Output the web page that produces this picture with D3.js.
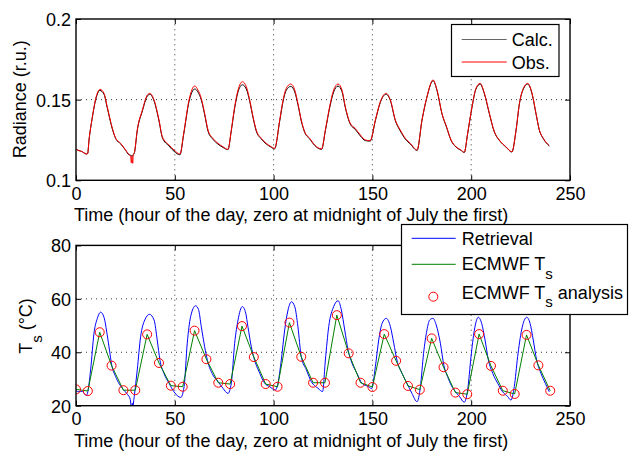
<!DOCTYPE html>
<html><head><meta charset="utf-8">
<script src="https://cdn.jsdelivr.net/npm/d3@7/dist/d3.min.js"></script>
<style>
body{margin:0;background:#fff}
text{font-family:"Liberation Sans",Arial,Helvetica,sans-serif;fill:#000}
</style>
</head><body>
<svg id="c" width="629" height="452"></svg>
<script>
// ---------- data ----------
const xTicks = [0, 50, 100, 150, 200, 250];
const radTicks = [0.1, 0.15, 0.2];
const tsTicks = [20, 40, 60, 80];
const xLabel = "Time (hour of the day, zero at midnight of July the first)";

// Radiance (r.u.) observed: [hour, value]
const radObs = [
 [0,0.1192],[1.5,0.1184],[3.2,0.1177],[4,0.1170],[5.4,0.1163],[5.9,0.1166],[6.6,0.1250],[8.3,0.1394],[10,0.1508],[12.1,0.1564],[14.2,0.1539],[15.8,0.1456],[18.4,0.1322],[20.1,0.1260],[22.6,0.1229],[25.1,0.1188],[26.8,0.1160],
 [27.6,0.1152],[28,0.1108],[28.3,0.1150],[28.7,0.1105],[29,0.1160],[29.6,0.1175],
 [31,0.1312],[33.6,0.1436],[36.1,0.1529],[37.4,0.1539],[39.5,0.1498],[42,0.1374],[43.7,0.1270],[47.1,0.1219],[49.6,0.1188],[52.6,0.1163],
 [54.5,0.1291],[57.2,0.1498],[60.1,0.1585],[61.7,0.1560],[63.4,0.1508],[65.1,0.1415],[66.8,0.1312],[69.3,0.1260],[71.9,0.1229],[74.4,0.1208],[76.9,0.1192],
 [78.6,0.1312],[80.3,0.1456],[82,0.1560],[84.2,0.1611],[86.2,0.1580],[87.9,0.1498],[89.6,0.1394],[91.2,0.1312],[93.8,0.1260],[96.3,0.1229],[98.8,0.1208],[100.5,0.1198],
 [103.1,0.1374],[104.8,0.1498],[106.4,0.1570],[108.7,0.1597],[110.7,0.1560],[112.3,0.1477],[114,0.1374],[115.7,0.1302],[118.3,0.1260],[120.8,0.1219],[124.3,0.1195],
 [126.2,0.1312],[128.7,0.1477],[130.4,0.1560],[132.6,0.1597],[134.6,0.1560],[136.3,0.1456],[138.8,0.1353],[141.3,0.1322],[143.9,0.1281],[146.4,0.1250],[148.9,0.1246],
 [151.5,0.1374],[154,0.1487],[156.9,0.1539],[159.1,0.1498],[161.6,0.1374],[164.1,0.1312],[166.7,0.1260],[169.2,0.1229],[172.6,0.1188],
 [175.1,0.1374],[177.6,0.1518],[180.7,0.1622],[182.7,0.1560],[185.2,0.1415],[187.5,0.1332],[189.8,0.1250],[192.3,0.1208],[194.8,0.1188],[196.5,0.1174],
 [198.2,0.1291],[200.4,0.1456],[202.4,0.1570],[204.5,0.1601],[206.7,0.1539],[209.2,0.1415],[211.7,0.1302],[214.2,0.1250],[217.6,0.1208],[220.6,0.1177],
 [222.7,0.1312],[224.4,0.1477],[226.4,0.1570],[228.6,0.1601],[230.8,0.1539],[232.8,0.1415],[234.5,0.1312],[236.5,0.1260],[239.5,0.1215]
];
// Radiance (r.u.) calculated: [hour, value]
const radCalc = [
 [0,0.1192],[1.5,0.1184],[3.2,0.1177],[4,0.1170],[5.4,0.1163],[5.9,0.1166],[6.6,0.1250],[8.3,0.1392],[10,0.1502],[12.1,0.1557],[14.2,0.1532],[15.8,0.1450],[18.4,0.1318],[20.1,0.1258],[22.6,0.1226],[25.1,0.1186],[26.8,0.1158],
 [27.6,0.1155],[28,0.1153],[28.3,0.1152],[28.7,0.1152],[29,0.1158],[29.6,0.1172],
 [31,0.1308],[33.6,0.1430],[36.1,0.1522],[37.4,0.1533],[39.5,0.1492],[42,0.1368],[43.7,0.1265],[47.1,0.1212],[49.6,0.1180],[52.6,0.1158],
 [54.5,0.1285],[57.2,0.1488],[60.1,0.1566],[61.7,0.1548],[63.4,0.1498],[65.1,0.1408],[66.8,0.1305],[69.3,0.1254],[71.9,0.1224],[74.4,0.1204],[76.9,0.1190],
 [78.6,0.1308],[80.3,0.1448],[82,0.1548],[84.2,0.1592],[86.2,0.1566],[87.9,0.1490],[89.6,0.1388],[91.2,0.1306],[93.8,0.1256],[96.3,0.1225],[98.8,0.1205],[100.5,0.1195],
 [103.1,0.1368],[104.8,0.1490],[106.4,0.1558],[108.7,0.1582],[110.7,0.1548],[112.3,0.1470],[114,0.1368],[115.7,0.1298],[118.3,0.1256],[120.8,0.1216],[124.3,0.1192],
 [126.2,0.1308],[128.7,0.1468],[130.4,0.1548],[132.6,0.1584],[134.6,0.1550],[136.3,0.1450],[138.8,0.1348],[141.3,0.1316],[143.9,0.1275],[146.4,0.1246],[148.9,0.1243],
 [151.5,0.1370],[154,0.1482],[156.9,0.1534],[159.1,0.1494],[161.6,0.1370],[164.1,0.1306],[166.7,0.1255],[169.2,0.1225],[172.6,0.1185],
 [175.1,0.1372],[177.6,0.1515],[180.7,0.1618],[182.7,0.1556],[185.2,0.1412],[187.5,0.1330],[189.8,0.1248],[192.3,0.1206],[194.8,0.1186],[196.5,0.1172],
 [198.2,0.1289],[200.4,0.1452],[202.4,0.1566],[204.5,0.1597],[206.7,0.1535],[209.2,0.1412],[211.7,0.1300],[214.2,0.1248],[217.6,0.1206],[220.6,0.1175],
 [222.7,0.1310],[224.4,0.1474],[226.4,0.1566],[228.6,0.1597],[230.8,0.1535],[232.8,0.1412],[234.5,0.1310],[236.5,0.1258],[239.5,0.1213]
];

// Retrieval Ts (deg C): [hour, value]
const retrieval = [
 [0,25.6],[1.5,25.2],[3,25.4],[4.2,24.6],[5.2,23.8],[5.8,24.6],[7.4,33.4],[9.1,47.1],[10.8,52.7],[12.5,55.0],[14.2,53.0],[15.8,46.5],[17,40.5],[18,35.5],[20,31.0],[22,28.0],[24,26.0],[26,24.3],[27.5,22.3],
 [27.9,19.0],[28.2,17.0],[28.5,21.0],[28.8,17.0],[29.1,21.0],[29.5,23.5],
 [31,33.4],[32.7,45.8],[34.8,52.1],[37.2,54.2],[39.5,52.1],[41.1,44.6],[42.5,37.0],[44.5,32.1],[47.1,28.4],[49.6,25.2],[53,23.1],
 [54.7,27.1],[56.3,43.4],[58,53.3],[60.5,57.4],[62,56.0],[63.4,49.6],[65.1,42.1],[66.5,37.0],[69.3,31.5],[71.9,29.0],[74.4,26.5],[76.9,24.6],
 [78.6,28.4],[80.3,43.4],[82,52.1],[84.2,57.1],[85.9,54.6],[87,49.6],[88.7,42.1],[90,38.0],[93,32.1],[95.5,28.4],[98,27.1],[100.9,25.9],
 [102.2,28.4],[103.9,37.1],[105.6,48.3],[107.3,55.8],[109,58.9],[110.7,57.1],[112.3,49.6],[114,38.3],[116.6,33.4],[119.1,29.0],[122.5,26.5],[124.8,25.3],
 [126.2,37.1],[127.9,49.6],[130.4,57.1],[132.6,59.3],[134.3,55.8],[136,48.3],[137.7,40.8],[139.7,35.9],[142.2,32.1],[144.7,28.4],[148.1,27.1],[149.6,26.4],
 [151.5,34.6],[153.2,44.6],[154.9,50.8],[157,52.7],[159.1,49.6],[160.8,43.4],[162.4,37.1],[165,32.1],[167.5,28.4],[170,24.6],[172.6,21.5],
 [174.3,27.1],[175.9,39.6],[177.6,48.3],[179,52.1],[180.7,52.7],[182.3,50.2],[184.4,43.4],[186.2,35.0],[188,31.0],[190,27.5],[192,25.3],[194,23.5],[196.5,21.3],
 [198.2,25.9],[199.9,38.3],[201.6,48.3],[203.6,53.1],[205.3,50.8],[207,44.6],[208.7,37.1],[210.9,32.1],[213.4,28.4],[215.9,25.2],[218.5,23.4],[220.1,22.1],
 [221.8,27.1],[223.5,38.3],[225.5,48.3],[228.1,53.1],[229.8,50.8],[231.4,44.6],[233.1,37.1],[235.3,32.1],[237.5,28.4],[239.5,25.2]
];

// ECMWF Ts analysis (every 6 h)
const ecmwfHours = [0,6,12,18,24,30,36,42,48,54,60,66,72,78,84,90,96,102,108,114,120,126,132,138,144,150,156,162,168,174,180,186,192,198,204,210,216,222,228,234,240];
const ecmwfTs = [26.1,25.5,47.5,35.0,25.8,25.8,46.7,36.0,27.5,27.1,48.1,37.4,28.6,28.1,49.8,38.2,28.1,27.1,51.1,38.3,28.6,28.6,53.9,39.6,28.6,27.0,46.8,36.8,27.4,26.0,45.2,34.4,24.9,24.3,46.8,34.9,25.6,24.4,46.5,35.1,25.6];

// ---------- drawing ----------
const svg = d3.select("#c");
const FS = 18;
const x = d3.scaleLinear().domain([0, 250]).range([76, 570]);
const yTop = d3.scaleLinear().domain([0.1, 0.2]).range([180.3, 19]);
const yBot = d3.scaleLinear().domain([20, 80]).range([405.7, 245.4]);

function panel(y, yticks, fmt, id) {
  const g = svg.append("g");
  const [y0, y1] = y.range();
  const [x0, x1] = x.range();
  svg.append("clipPath").attr("id", id).append("rect")
    .attr("x", x0).attr("y", y1).attr("width", x1 - x0).attr("height", y0 - y1);
  // grid
  g.selectAll(".gx").data(xTicks.slice(1, -1)).join("line")
    .attr("x1", d => x(d)).attr("x2", d => x(d)).attr("y1", y0).attr("y2", y1)
    .attr("stroke", "#000").attr("stroke-width", 0.8).attr("stroke-dasharray", "1,4");
  g.selectAll(".gy").data(yticks.slice(1, -1)).join("line")
    .attr("y1", d => y(d)).attr("y2", d => y(d)).attr("x1", x0).attr("x2", x1)
    .attr("stroke", "#000").attr("stroke-width", 0.8).attr("stroke-dasharray", "1,4");
  // axes (ticks inside)
  const ax = g.append("g").attr("transform", `translate(0,${y0})`)
    .call(d3.axisBottom(x).tickValues(xTicks).tickSize(-5).tickSizeOuter(0).tickPadding(7).tickFormat(d3.format("d")));
  const axT = g.append("g").attr("transform", `translate(0,${y1})`)
    .call(d3.axisTop(x).tickValues(xTicks).tickSize(-5).tickSizeOuter(0).tickFormat(""));
  const ay = g.append("g").attr("transform", `translate(${x0},0)`)
    .call(d3.axisLeft(y).tickValues(yticks).tickSize(-5).tickSizeOuter(0).tickPadding(5).tickFormat(fmt));
  const ayR = g.append("g").attr("transform", `translate(${x1},0)`)
    .call(d3.axisRight(y).tickValues(yticks).tickSize(-5).tickSizeOuter(0).tickFormat(""));
  [ax, axT, ay, ayR].forEach(a => {
    a.select(".domain").remove();
    a.selectAll(".tick line").attr("stroke", "#000").attr("stroke-width", 1);
    a.selectAll("text").attr("font-size", FS).attr("font-family", '"Liberation Sans",Arial,sans-serif').attr("fill", "#000");
  });
  ay.selectAll("text").attr("dy", "0.36em");
  return g;
}

function box(y) {
  const [y0, y1] = y.range();
  const [x0, x1] = x.range();
  svg.append("rect").attr("x", x0).attr("y", y1).attr("width", x1 - x0).attr("height", y0 - y1)
    .attr("fill", "none").attr("stroke", "#000").attr("stroke-width", 1.4);
}

// ---- top panel ----
panel(yTop, radTicks, d => String(d), "clipTop");
const lineTop = d3.line().x(d => x(d[0])).y(d => yTop(d[1])).curve(d3.curveMonotoneX);
const gTop = svg.append("g").attr("clip-path", "url(#clipTop)");
gTop.append("path").attr("d", lineTop(radCalc)).attr("fill", "none").attr("stroke", "#000").attr("stroke-width", 1);
gTop.append("path").attr("d", lineTop(radObs)).attr("fill", "none").attr("stroke", "#ff0000").attr("stroke-width", 1);
box(yTop);

svg.append("text").attr("x", 74).attr("y", 221).attr("font-size", FS).text(xLabel);
svg.append("text").attr("transform", "translate(25.5,99.3) rotate(-90)").attr("text-anchor", "middle")
  .attr("font-size", FS).text("Radiance (r.u.)");

// legend top
const lt = svg.append("g");
lt.append("rect").attr("x", 451.5).attr("y", 24.5).attr("width", 107.5).attr("height", 52)
  .attr("fill", "#fff").attr("stroke", "#000").attr("stroke-width", 1.2);
[["Calc.", "#000", 39.5], ["Obs.", "#ff0000", 62]].forEach(([t, c, yy]) => {
  lt.append("line").attr("x1", 461.7).attr("x2", 506.7).attr("y1", yy).attr("y2", yy)
    .attr("stroke", c).attr("stroke-width", 1).attr("stroke-opacity", c === "#000" ? 0.6 : 1);
  lt.append("text").attr("x", 511.7).attr("y", yy + 6.5).attr("font-size", FS).text(t);
});

// ---- bottom panel ----
panel(yBot, tsTicks, d3.format("d"), "clipBot");
const lineBot = d3.line().x(d => x(d[0])).y(d => yBot(d[1])).curve(d3.curveMonotoneX);
const gBot = svg.append("g").attr("clip-path", "url(#clipBot)");
gBot.append("path").attr("d", lineBot(retrieval)).attr("fill", "none").attr("stroke", "#0000ff").attr("stroke-width", 1);
const ecm = ecmwfHours.map((h, i) => [h, ecmwfTs[i]]);
gBot.append("path").attr("d", d3.line().x(d => x(d[0])).y(d => yBot(d[1]))(ecm))
  .attr("fill", "none").attr("stroke", "#008000").attr("stroke-width", 1);
gBot.selectAll("circle").data(ecm).join("circle")
  .attr("cx", d => x(d[0])).attr("cy", d => yBot(d[1])).attr("r", 4.5)
  .attr("fill", "none").attr("stroke", "#ff0000").attr("stroke-width", 1);
box(yBot);

svg.append("text").attr("x", 74).attr("y", 446.5).attr("font-size", FS).text(xLabel);
const yl = svg.append("text").attr("transform", "translate(31.7,326) rotate(-90)").attr("text-anchor", "middle").attr("font-size", FS);
yl.append("tspan").text("T");
yl.append("tspan").attr("font-size", 15).attr("dy", 10).text("s");
yl.append("tspan").attr("dy", -10).text(" (°C)");

// legend bottom
const lb = svg.append("g");
lb.append("rect").attr("x", 401.5).attr("y", 224.5).attr("width", 226).attr("height", 90)
  .attr("fill", "#fff").attr("stroke", "#000").attr("stroke-width", 1.2);
lb.append("line").attr("x1", 411.7).attr("x2", 455.7).attr("y1", 238.3).attr("y2", 238.3).attr("stroke", "#0000ff");
lb.append("text").attr("x", 461.7).attr("y", 245.3).attr("font-size", FS).text("Retrieval");
lb.append("line").attr("x1", 411.7).attr("x2", 455.7).attr("y1", 264.3).attr("y2", 264.3).attr("stroke", "#008000");
const t2 = lb.append("text").attr("x", 461.7).attr("y", 270).attr("font-size", FS);
t2.append("tspan").text("ECMWF T");
t2.append("tspan").attr("font-size", 15).attr("dy", 8.5).text("s");
lb.append("circle").attr("cx", 433.3).attr("cy", 296.7).attr("r", 4.5).attr("fill", "none").attr("stroke", "#ff0000");
const t3 = lb.append("text").attr("x", 461.7).attr("y", 298.6).attr("font-size", FS);
t3.append("tspan").text("ECMWF T");
t3.append("tspan").attr("font-size", 15).attr("dy", 8.5).text("s");
t3.append("tspan").attr("dy", -8.5).text(" analysis");
</script>
</body></html>
